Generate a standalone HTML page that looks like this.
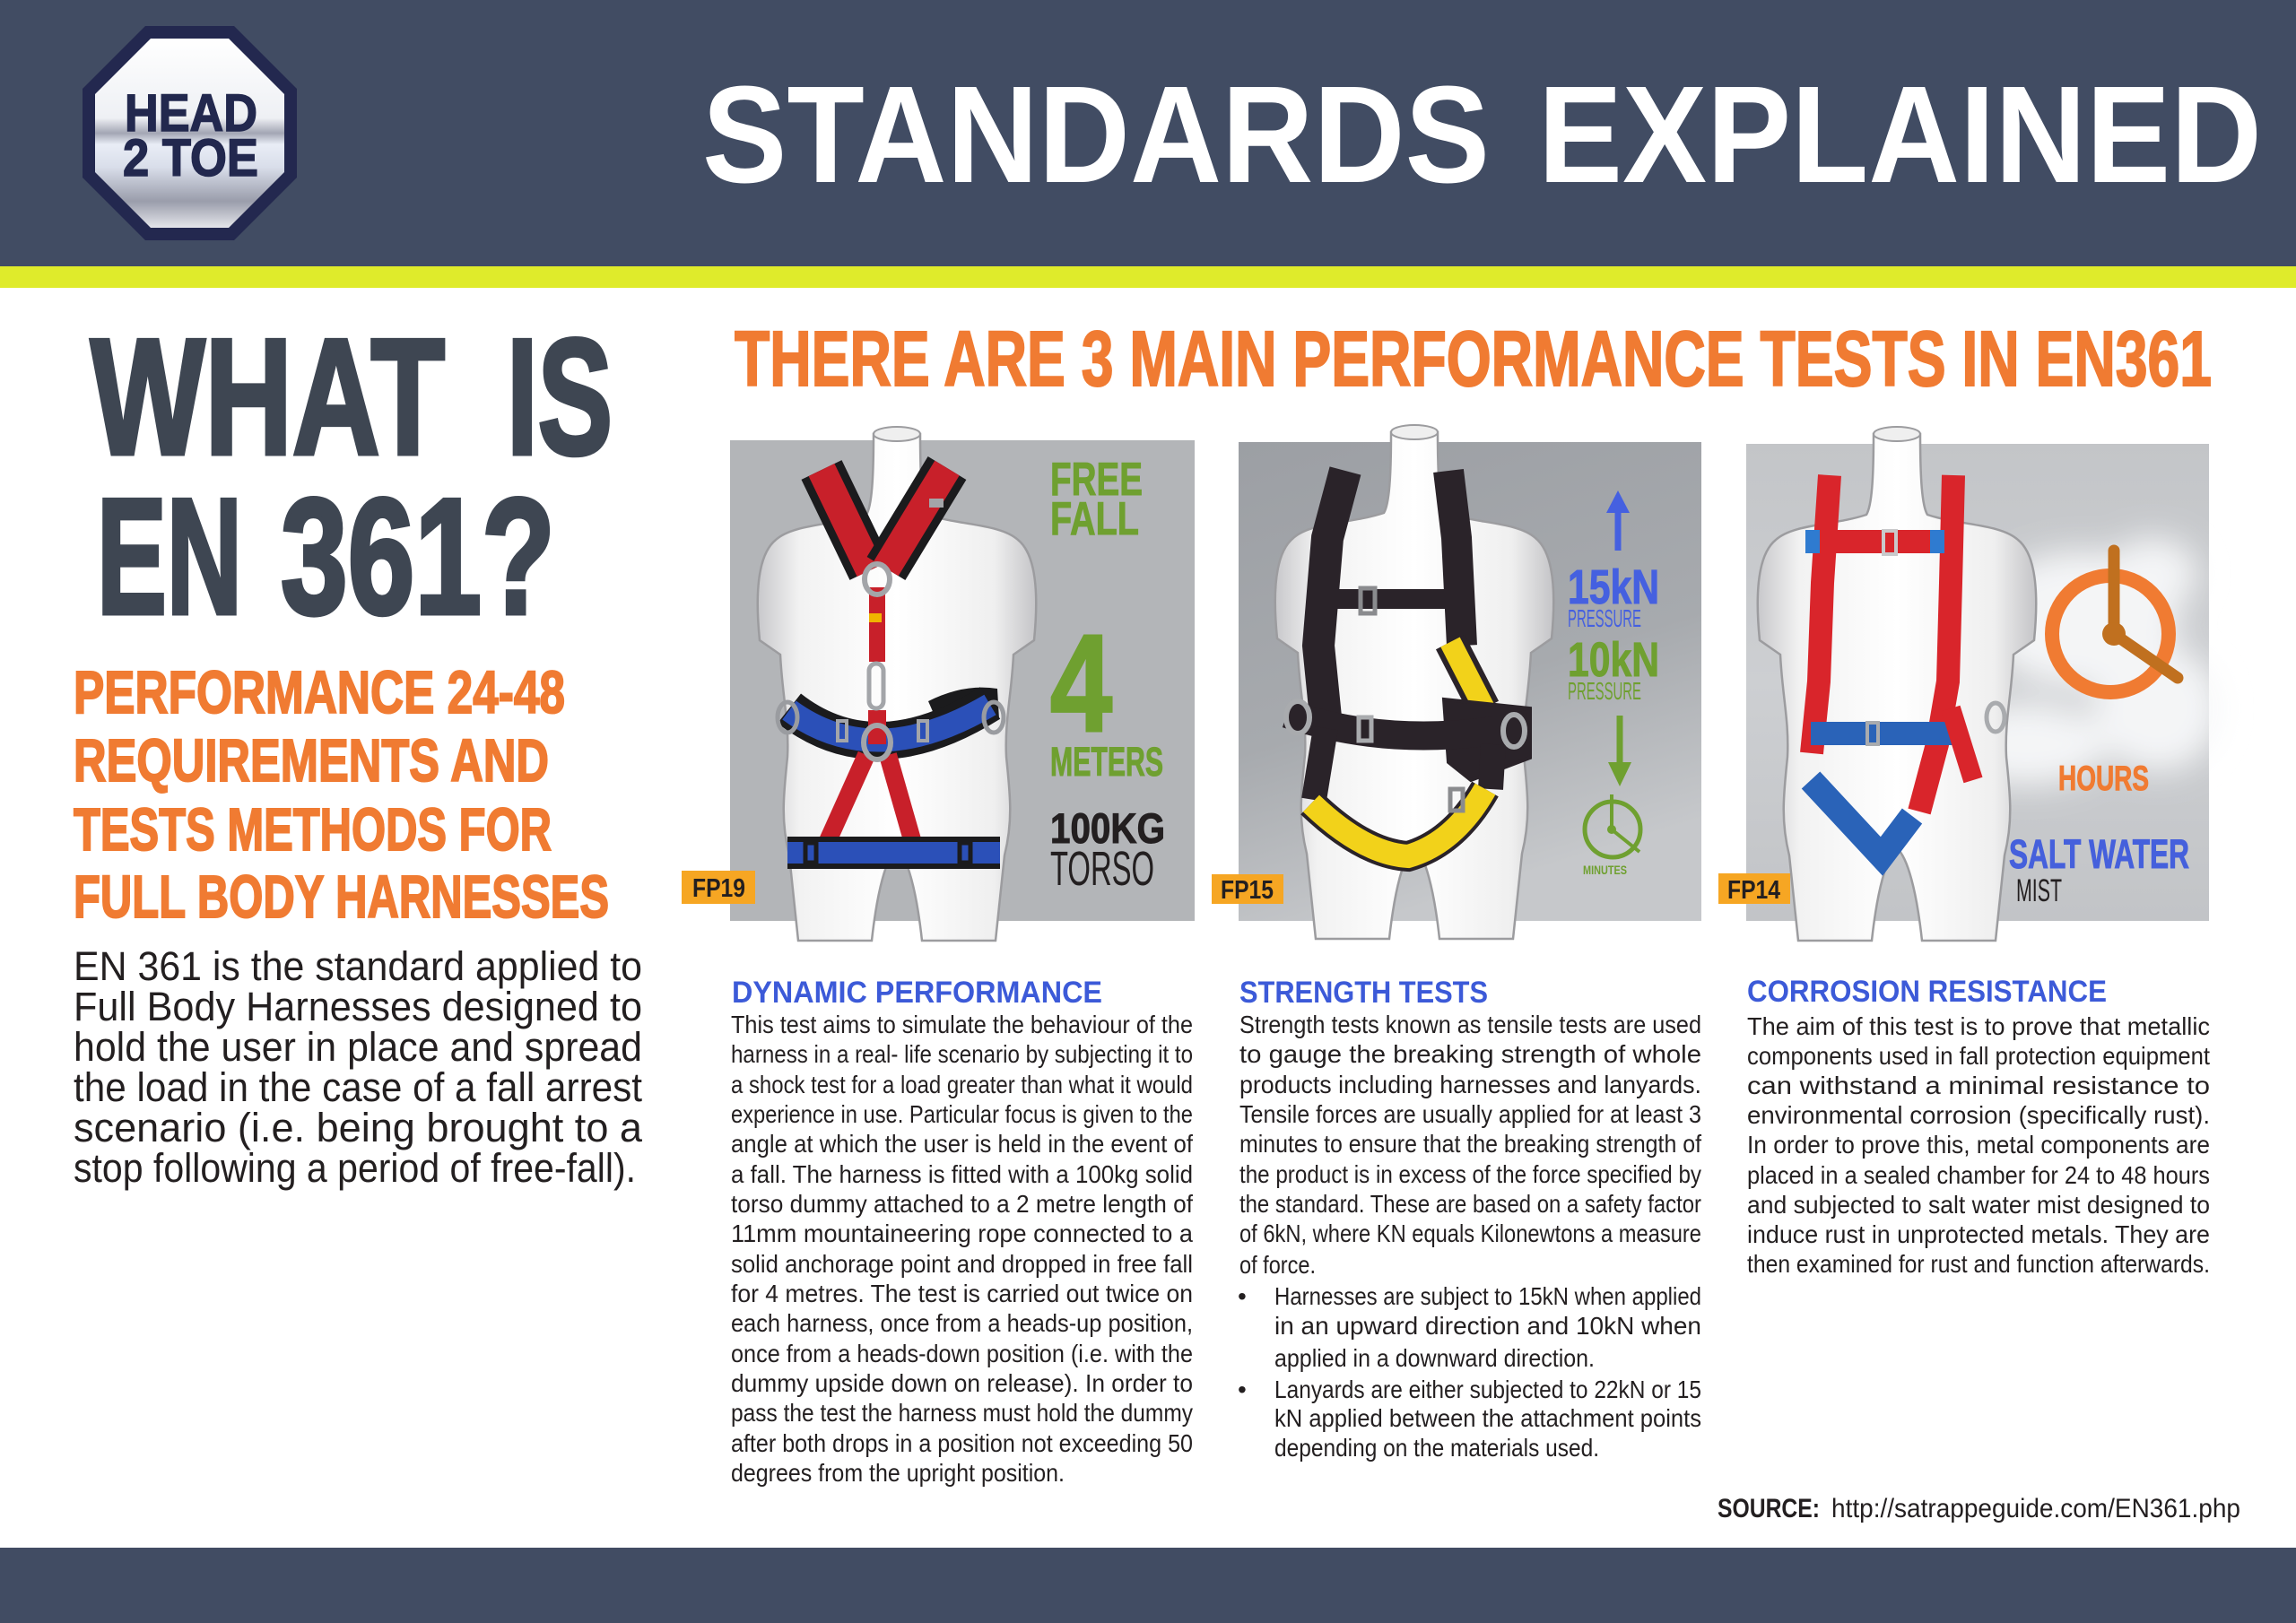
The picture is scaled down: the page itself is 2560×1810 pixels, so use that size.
<!DOCTYPE html>
<html>
<head>
<meta charset="utf-8">
<style>
  html,body{margin:0;padding:0;background:#ffffff;}
  svg{display:block;}
  .b{font-family:"Liberation Sans",sans-serif;font-weight:bold;}
  .r{font-family:"Liberation Sans",sans-serif;font-weight:normal;}
</style>
</head>
<body>
<svg width="2560" height="1810" viewBox="0 0 2560 1810" xmlns="http://www.w3.org/2000/svg">
  <defs>
    <linearGradient id="logoG" x1="0" y1="0" x2="0" y2="1">
      <stop offset="0" stop-color="#ffffff"/>
      <stop offset="0.42" stop-color="#eef0f4"/>
      <stop offset="0.5" stop-color="#a3a6b4"/>
      <stop offset="0.56" stop-color="#e9edf6"/>
      <stop offset="0.68" stop-color="#d9deea"/>
      <stop offset="0.86" stop-color="#9a9dab"/>
      <stop offset="1" stop-color="#e4e5ea"/>
    </linearGradient>
    <linearGradient id="mqG" x1="0" y1="0" x2="1" y2="0">
      <stop offset="0" stop-color="#c8c8cb"/>
      <stop offset="0.15" stop-color="#f2f2f2"/>
      <stop offset="0.5" stop-color="#ffffff"/>
      <stop offset="0.85" stop-color="#efefef"/>
      <stop offset="1" stop-color="#c4c4c7"/>
    </linearGradient>
    <linearGradient id="p2G" x1="0" y1="0" x2="0.3" y2="1">
      <stop offset="0" stop-color="#9c9fa4"/>
      <stop offset="0.6" stop-color="#a7aaae"/>
      <stop offset="1" stop-color="#c6c8cb"/>
    </linearGradient>
    <linearGradient id="p3G" x1="0" y1="0" x2="0" y2="1">
      <stop offset="0" stop-color="#c3c5c8"/>
      <stop offset="0.5" stop-color="#cdcfd2"/>
      <stop offset="1" stop-color="#c2c4c7"/>
    </linearGradient>
    <filter id="blur" x="-50%" y="-50%" width="200%" height="200%">
      <feGaussianBlur stdDeviation="18"/>
    </filter>
    <g id="mq">
      <path d="M -26,10 C -26,60 -28,90 -34,100 C -70,112 -115,110 -135,128 C -156,145 -158,190 -153,240 L -130,256 C -128,300 -120,330 -122,370 C -126,410 -130,440 -120,480 L -110,575 L -28,575 C -22,520 -12,482 0,472 C 12,482 22,520 28,575 L 110,575 L 120,480 C 130,440 126,410 122,370 C 120,330 128,300 130,256 L 153,240 C 158,190 156,145 135,128 C 115,110 70,112 34,100 C 28,90 26,60 26,10 Z" fill="url(#mqG)" stroke="#9c9c9f" stroke-width="2.5"/>
      <ellipse cx="0" cy="10" rx="26" ry="8" fill="#efefef" stroke="#9c9c9f" stroke-width="2"/>
    </g>
  </defs>

  <!-- Header -->
  <rect x="0" y="0" width="2560" height="297" fill="#414c63"/>
  <rect x="0" y="297" width="2560" height="24" fill="#dfeb2b"/>
  <!-- Footer -->
  <rect x="0" y="1726" width="2560" height="84" fill="#414c63"/>

  <!-- Logo -->
  <polygon points="162,29 261,29 331,99 331,198 261,268 162,268 92,198 92,99" fill="#23284f"/>
  <polygon points="168,43 255,43 317,105 317,192 255,254 168,254 106,192 106,105" fill="url(#logoG)"/>
  <text class="b" x="139" y="146" font-size="58" fill="#22284e" stroke="#22284e" stroke-width="1.5" textLength="148" lengthAdjust="spacingAndGlyphs">HEAD</text>
  <text class="b" x="137" y="196" font-size="58" fill="#22284e" stroke="#22284e" stroke-width="1.5" textLength="151" lengthAdjust="spacingAndGlyphs">2 TOE</text>

  <!-- Header title -->
  <text class="b" x="783" y="203" font-size="154" fill="#ffffff" textLength="878" lengthAdjust="spacingAndGlyphs">STANDARDS</text>
  <text class="b" x="1715" y="203" font-size="154" fill="#ffffff" textLength="807" lengthAdjust="spacingAndGlyphs">EXPLAINED</text>

  <!-- Left column -->
  <g class="b" font-size="184" fill="#3e4652" stroke="#3e4652" stroke-width="5">
    <text x="101" y="506" textLength="395" lengthAdjust="spacingAndGlyphs">WHAT</text>
    <text x="565" y="506" textLength="118" lengthAdjust="spacingAndGlyphs">IS</text>
    <text x="108" y="684" textLength="162" lengthAdjust="spacingAndGlyphs">EN</text>
    <text x="313" y="684" textLength="306" lengthAdjust="spacingAndGlyphs">361?</text>
  </g>

  <g class="b" font-size="67" fill="#f07b32" stroke="#f07b32" stroke-width="2">
    <text x="82" y="795" textLength="548" lengthAdjust="spacingAndGlyphs">PERFORMANCE 24-48</text>
    <text x="82" y="871" textLength="530" lengthAdjust="spacingAndGlyphs">REQUIREMENTS AND</text>
    <text x="82" y="948" textLength="533" lengthAdjust="spacingAndGlyphs">TESTS METHODS FOR</text>
    <text x="82" y="1023" textLength="597" lengthAdjust="spacingAndGlyphs">FULL BODY HARNESSES</text>
  </g>

  <g class="r" font-size="45" fill="#231f20">
    <text x="82" y="1093" textLength="634" lengthAdjust="spacingAndGlyphs">EN 361 is the standard applied to</text>
    <text x="82" y="1138" textLength="634" lengthAdjust="spacingAndGlyphs">Full Body Harnesses designed to</text>
    <text x="82" y="1183" textLength="634" lengthAdjust="spacingAndGlyphs">hold the user in place and spread</text>
    <text x="82" y="1228" textLength="634" lengthAdjust="spacingAndGlyphs">the load in the case of a fall arrest</text>
    <text x="82" y="1273" textLength="634" lengthAdjust="spacingAndGlyphs">scenario (i.e. being brought to a</text>
    <text x="82" y="1318" textLength="627" lengthAdjust="spacingAndGlyphs">stop following a period of free-fall).</text>
  </g>

  <!-- Main orange title -->
  <text class="b" x="819" y="430" font-size="87" fill="#f07b32" stroke="#f07b32" stroke-width="2" textLength="1647" lengthAdjust="spacingAndGlyphs">THERE ARE 3 MAIN PERFORMANCE TESTS IN EN361</text>

  <!-- Panel backgrounds -->
  <rect x="814" y="491" width="518" height="536" fill="#b3b5b8"/>
  <rect x="1381" y="493" width="516" height="534" fill="url(#p2G)"/>
  <rect x="1947" y="495" width="516" height="532" fill="url(#p3G)"/>

  <!-- Panel 3 clouds -->
  <g filter="url(#blur)" fill="#f7f8f9" opacity="0.95">
    <ellipse cx="2320" cy="690" rx="110" ry="75"/>
    <ellipse cx="2405" cy="790" rx="70" ry="70"/>
    <ellipse cx="2260" cy="830" rx="90" ry="45"/>
    <ellipse cx="2400" cy="640" rx="50" ry="40"/>
  </g>

  <!-- Mannequins -->
  <use href="#mq" transform="translate(1000,474)"/>
  <use href="#mq" transform="translate(1577,472)"/>
  <use href="#mq" transform="translate(2115,474)"/>

  <!-- Panel 1 harness (red/blue) -->
  <path d="M 1035,782 Q 1075,762 1112,768 L 1114,802 Q 1080,795 1045,805 Z" fill="#1b1b1d"/>
  <g fill="none" stroke-linecap="butt">
    <path d="M 916,524 L 970,636" stroke="#1b1b1d" stroke-width="50"/>
    <path d="M 916,524 L 970,636" stroke="#c8202a" stroke-width="32"/>
    <path d="M 1056,522 L 988,634" stroke="#1b1b1d" stroke-width="50"/>
    <path d="M 1056,522 L 988,634" stroke="#c8202a" stroke-width="32"/>
    <path d="M 978,655 L 978,738" stroke="#c8202a" stroke-width="18"/>
    <path d="M 880,790 Q 975,865 1104,784" stroke="#1b1b1d" stroke-width="42"/>
    <path d="M 880,792 Q 975,862 1104,786" stroke="#2b50b8" stroke-width="26"/>
    <path d="M 978,792 L 978,830" stroke="#c8202a" stroke-width="20"/>
    <path d="M 966,842 L 922,940" stroke="#c8202a" stroke-width="20"/>
    <path d="M 990,842 L 1018,940" stroke="#c8202a" stroke-width="20"/>
    <path d="M 878,951 L 1115,951" stroke="#1b1b1d" stroke-width="36"/>
    <path d="M 878,951 L 1115,951" stroke="#2b50b8" stroke-width="24"/>
    <ellipse cx="978" cy="646" rx="14" ry="17" stroke="#a3a5a9" stroke-width="6"/>
    <rect x="969" y="740" width="16" height="50" rx="8" stroke="#a3a5a9" stroke-width="5"/>
    <ellipse cx="978" cy="828" rx="15" ry="19" stroke="#a3a5a9" stroke-width="6"/>
    <ellipse cx="878" cy="800" rx="11" ry="17" stroke="#9a9ca0" stroke-width="5"/>
    <ellipse cx="1108" cy="800" rx="11" ry="17" stroke="#9a9ca0" stroke-width="5"/>
    <rect x="898" y="940" width="12" height="22" stroke="#1b1b1d" stroke-width="5"/>
    <rect x="1070" y="940" width="12" height="22" stroke="#1b1b1d" stroke-width="5"/>
    <rect x="934" y="804" width="10" height="22" stroke="#a3a5a9" stroke-width="4"/>
    <rect x="1024" y="804" width="10" height="22" stroke="#a3a5a9" stroke-width="4"/>
    <rect x="1036" y="556" width="16" height="10" fill="#a3a5a9" stroke="none"/>
  </g>
  <rect x="969" y="684" width="14" height="10" fill="#f0b400"/>

  <!-- Panel 2 harness (black/yellow) -->
  <g fill="none" stroke-linecap="butt">
    <path d="M 1500,525 L 1480,600 L 1470,720 L 1478,800" stroke="#2a2329" stroke-width="36"/>
    <path d="M 1615,525 L 1624,600 L 1630,720" stroke="#2a2329" stroke-width="34"/>
    <path d="M 1617,716 L 1655,790" stroke="#2a2329" stroke-width="36"/>
    <path d="M 1617,716 L 1655,790" stroke="#f2d21a" stroke-width="24"/>
    <path d="M 1466,668 L 1628,668" stroke="#2a2329" stroke-width="22"/>
    <path d="M 1610,780 L 1706,790 L 1706,845 L 1640,870 L 1615,850 Z" fill="#2a2329" stroke="#2a2329" stroke-width="4"/>
    <path d="M 1435,796 Q 1560,838 1704,808" stroke="#2a2329" stroke-width="32"/>
    <path d="M 1478,812 L 1465,892" stroke="#2a2329" stroke-width="28"/>
    <path d="M 1665,830 L 1662,880" stroke="#2a2329" stroke-width="28"/>
    <path d="M 1462,896 Q 1520,952 1570,955 Q 1622,940 1656,880" stroke="#2a2329" stroke-width="34"/>
    <path d="M 1462,896 Q 1520,952 1570,955 Q 1622,940 1656,880" stroke="#f2d21a" stroke-width="26"/>
    <ellipse cx="1447" cy="800" rx="13" ry="18" stroke="#a9abae" stroke-width="6"/>
    <ellipse cx="1688" cy="815" rx="12" ry="18" stroke="#a9abae" stroke-width="6"/>
    <rect x="1517" y="656" width="16" height="28" stroke="#8a8b8e" stroke-width="5"/>
    <rect x="1515" y="800" width="14" height="26" stroke="#a9abae" stroke-width="5"/>
    <rect x="1617" y="880" width="14" height="24" stroke="#8a8b8e" stroke-width="5"/>
  </g>

  <!-- Panel 3 harness (red/blue) -->
  <g fill="none" stroke-linecap="butt">
    <path d="M 2040,530 L 2032,650 L 2028,760 L 2020,840" stroke="#d9252b" stroke-width="26"/>
    <path d="M 2178,530 L 2175,650 L 2172,760 L 2160,830 L 2140,905" stroke="#d9252b" stroke-width="26"/>
    <path d="M 2015,604 L 2166,604" stroke="#d9252b" stroke-width="26"/>
    <rect x="2013" y="591" width="16" height="26" fill="#2f7bd0" stroke="none"/>
    <rect x="2152" y="591" width="16" height="26" fill="#2f7bd0" stroke="none"/>
    <rect x="2100" y="592" width="14" height="26" stroke="#c9c9cb" stroke-width="4"/>
    <path d="M 2019,818 L 2185,818" stroke="#2a63b8" stroke-width="26"/>
    <path d="M 2019,870 L 2098,955 L 2132,910" stroke="#2a63b8" stroke-width="28"/>
    <path d="M 2175,790 L 2200,870" stroke="#d9252b" stroke-width="22"/>
    <rect x="2082" y="806" width="12" height="24" stroke="#a9abae" stroke-width="4"/>
    <ellipse cx="2225" cy="800" rx="10" ry="16" stroke="#a9abae" stroke-width="5"/>
  </g>

  <!-- Panel 1 texts -->
  <g class="b" fill="#6fa030" stroke="#6fa030" stroke-width="1">
    <text x="1171" y="552" font-size="52" textLength="103" lengthAdjust="spacingAndGlyphs">FREE</text>
    <text x="1171" y="596" font-size="52" textLength="99" lengthAdjust="spacingAndGlyphs">FALL</text>
    <text x="1171" y="815" font-size="154" stroke-width="3" textLength="69" lengthAdjust="spacingAndGlyphs">4</text>
    <text x="1171" y="865" font-size="45" textLength="126" lengthAdjust="spacingAndGlyphs">METERS</text>
  </g>
  <text class="b" x="1171" y="940" font-size="47" fill="#231f20" stroke="#231f20" stroke-width="1" textLength="128" lengthAdjust="spacingAndGlyphs">100KG</text>
  <text class="r" x="1171" y="987" font-size="54" fill="#231f20" textLength="116" lengthAdjust="spacingAndGlyphs">TORSO</text>

  <!-- Panel 2 texts & icons -->
  <path d="M 1804,614 L 1804,568" stroke="#4560e0" stroke-width="7"/>
  <polygon points="1791,572 1804,547 1817,572" fill="#4560e0"/>
  <text class="b" x="1748" y="673" font-size="54" fill="#4560e0" stroke="#4560e0" stroke-width="1" textLength="102" lengthAdjust="spacingAndGlyphs">15kN</text>
  <text class="r" x="1748" y="699" font-size="28" fill="#4560e0" textLength="82" lengthAdjust="spacingAndGlyphs">PRESSURE</text>
  <text class="b" x="1748" y="754" font-size="54" fill="#6fa030" stroke="#6fa030" stroke-width="1" textLength="102" lengthAdjust="spacingAndGlyphs">10kN</text>
  <text class="r" x="1748" y="780" font-size="28" fill="#6fa030" textLength="82" lengthAdjust="spacingAndGlyphs">PRESSURE</text>
  <path d="M 1806,798 L 1806,852" stroke="#6fa030" stroke-width="7"/>
  <polygon points="1793,850 1806,877 1819,850" fill="#6fa030"/>
  <circle cx="1798" cy="925" r="31" fill="none" stroke="#6fa030" stroke-width="5"/>
  <path d="M 1797,886 L 1797,925 L 1828,950" fill="none" stroke="#6fa030" stroke-width="4"/>
  <circle cx="1797" cy="925" r="5" fill="#6fa030"/>
  <text class="b" x="1765" y="975" font-size="14" fill="#6fa030" textLength="49" lengthAdjust="spacingAndGlyphs">MINUTES</text>

  <!-- Panel 3 texts & icons -->
  <circle cx="2353" cy="707" r="65" fill="none" stroke="#f07b32" stroke-width="16"/>
  <path d="M 2357,614 L 2357,707 L 2428,756" fill="none" stroke="#c0701f" stroke-width="13" stroke-linecap="round" stroke-linejoin="round"/>
  <circle cx="2357" cy="707" r="13" fill="#c0701f"/>
  <text class="b" x="2295" y="881" font-size="39" fill="#f07b32" stroke="#f07b32" stroke-width="1" textLength="101" lengthAdjust="spacingAndGlyphs">HOURS</text>
  <text class="b" x="2240" y="968" font-size="45" fill="#4560dc" stroke="#4560dc" stroke-width="1" textLength="201" lengthAdjust="spacingAndGlyphs">SALT WATER</text>
  <text class="r" x="2248" y="1005" font-size="35" fill="#231f20" textLength="51" lengthAdjust="spacingAndGlyphs">MIST</text>

  <!-- FP labels -->
  <rect x="760" y="971" width="82" height="37" fill="#f6a623"/>
  <text class="b" x="772" y="1000" font-size="29" fill="#231f20" textLength="59" lengthAdjust="spacingAndGlyphs">FP19</text>
  <rect x="1351" y="975" width="80" height="33" fill="#f6a623"/>
  <text class="b" x="1361" y="1002" font-size="29" fill="#231f20" textLength="59" lengthAdjust="spacingAndGlyphs">FP15</text>
  <rect x="1916" y="974" width="80" height="34" fill="#f6a623"/>
  <text class="b" x="1926" y="1002" font-size="29" fill="#231f20" textLength="59" lengthAdjust="spacingAndGlyphs">FP14</text>

  <!-- Column headings -->
  <g class="b" font-size="34" fill="#3c5ad8">
    <text x="816" y="1118" textLength="413" lengthAdjust="spacingAndGlyphs">DYNAMIC PERFORMANCE</text>
    <text x="1382" y="1118" textLength="277" lengthAdjust="spacingAndGlyphs">STRENGTH TESTS</text>
    <text x="1948" y="1117" textLength="401" lengthAdjust="spacingAndGlyphs">CORROSION RESISTANCE</text>
  </g>

  <!-- Column 1 body -->
  <g class="r" font-size="28" fill="#231f20">
    <text x="815" y="1152" textLength="515" lengthAdjust="spacingAndGlyphs">This test aims to simulate the behaviour of the</text>
    <text x="815" y="1185" textLength="515" lengthAdjust="spacingAndGlyphs">harness in a real- life scenario by subjecting it to</text>
    <text x="815" y="1219" textLength="515" lengthAdjust="spacingAndGlyphs">a shock test for a load greater than what it would</text>
    <text x="815" y="1252" textLength="515" lengthAdjust="spacingAndGlyphs">experience in use. Particular focus is given to the</text>
    <text x="815" y="1285" textLength="515" lengthAdjust="spacingAndGlyphs">angle at which the user is held in the event of</text>
    <text x="815" y="1319" textLength="515" lengthAdjust="spacingAndGlyphs">a fall. The harness is fitted with a 100kg solid</text>
    <text x="815" y="1352" textLength="515" lengthAdjust="spacingAndGlyphs">torso dummy attached to a 2 metre length of</text>
    <text x="815" y="1385" textLength="515" lengthAdjust="spacingAndGlyphs">11mm mountaineering rope connected to a</text>
    <text x="815" y="1419" textLength="515" lengthAdjust="spacingAndGlyphs">solid anchorage point and dropped in free fall</text>
    <text x="815" y="1452" textLength="515" lengthAdjust="spacingAndGlyphs">for 4 metres. The test is carried out twice on</text>
    <text x="815" y="1485" textLength="515" lengthAdjust="spacingAndGlyphs">each harness, once from a heads-up position,</text>
    <text x="815" y="1519" textLength="515" lengthAdjust="spacingAndGlyphs">once from a heads-down position (i.e. with the</text>
    <text x="815" y="1552" textLength="515" lengthAdjust="spacingAndGlyphs">dummy upside down on release). In order to</text>
    <text x="815" y="1585" textLength="515" lengthAdjust="spacingAndGlyphs">pass the test the harness must hold the dummy</text>
    <text x="815" y="1619" textLength="515" lengthAdjust="spacingAndGlyphs">after both drops in a position not exceeding 50</text>
    <text x="815" y="1652" textLength="372" lengthAdjust="spacingAndGlyphs">degrees from the upright position.</text>
  </g>

  <!-- Column 2 body -->
  <g class="r" font-size="28" fill="#231f20">
    <text x="1382" y="1152" textLength="515" lengthAdjust="spacingAndGlyphs">Strength tests known as tensile tests are used</text>
    <text x="1382" y="1185" textLength="515" lengthAdjust="spacingAndGlyphs">to gauge the breaking strength of whole</text>
    <text x="1382" y="1219" textLength="515" lengthAdjust="spacingAndGlyphs">products including harnesses and lanyards.</text>
    <text x="1382" y="1252" textLength="515" lengthAdjust="spacingAndGlyphs">Tensile forces are usually applied for at least 3</text>
    <text x="1382" y="1285" textLength="515" lengthAdjust="spacingAndGlyphs">minutes to ensure that the breaking strength of</text>
    <text x="1382" y="1319" textLength="515" lengthAdjust="spacingAndGlyphs">the product is in excess of the force specified by</text>
    <text x="1382" y="1352" textLength="515" lengthAdjust="spacingAndGlyphs">the standard. These are based on a safety factor</text>
    <text x="1382" y="1385" textLength="515" lengthAdjust="spacingAndGlyphs">of 6kN, where KN equals Kilonewtons a measure</text>
    <text x="1382" y="1420" textLength="85" lengthAdjust="spacingAndGlyphs">of force.</text>
    <text x="1380" y="1455">•</text>
    <text x="1421" y="1455" textLength="476" lengthAdjust="spacingAndGlyphs">Harnesses are subject to 15kN when applied</text>
    <text x="1421" y="1488" textLength="476" lengthAdjust="spacingAndGlyphs">in an upward direction and 10kN when</text>
    <text x="1421" y="1524" textLength="357" lengthAdjust="spacingAndGlyphs">applied in a downward direction.</text>
    <text x="1380" y="1559">•</text>
    <text x="1421" y="1559" textLength="476" lengthAdjust="spacingAndGlyphs">Lanyards are either subjected to 22kN or 15</text>
    <text x="1421" y="1591" textLength="476" lengthAdjust="spacingAndGlyphs">kN applied between the attachment points</text>
    <text x="1421" y="1624" textLength="362" lengthAdjust="spacingAndGlyphs">depending on the materials used.</text>
  </g>

  <!-- Column 3 body -->
  <g class="r" font-size="28" fill="#231f20">
    <text x="1948" y="1154" textLength="516" lengthAdjust="spacingAndGlyphs">The aim of this test is to prove that metallic</text>
    <text x="1948" y="1187" textLength="516" lengthAdjust="spacingAndGlyphs">components used in fall protection equipment</text>
    <text x="1948" y="1220" textLength="516" lengthAdjust="spacingAndGlyphs">can withstand a minimal resistance to</text>
    <text x="1948" y="1253" textLength="516" lengthAdjust="spacingAndGlyphs">environmental corrosion (specifically rust).</text>
    <text x="1948" y="1286" textLength="516" lengthAdjust="spacingAndGlyphs">In order to prove this, metal components are</text>
    <text x="1948" y="1320" textLength="516" lengthAdjust="spacingAndGlyphs">placed in a sealed chamber for 24 to 48 hours</text>
    <text x="1948" y="1353" textLength="516" lengthAdjust="spacingAndGlyphs">and subjected to salt water mist designed to</text>
    <text x="1948" y="1386" textLength="516" lengthAdjust="spacingAndGlyphs">induce rust in unprotected metals. They are</text>
    <text x="1948" y="1419" textLength="516" lengthAdjust="spacingAndGlyphs">then examined for rust and function afterwards.</text>
  </g>

  <!-- Source -->
  <text class="b" x="1915" y="1692" font-size="30" fill="#231f20" textLength="114" lengthAdjust="spacingAndGlyphs">SOURCE:</text>
  <text class="r" x="2042" y="1692" font-size="30" fill="#231f20" textLength="456" lengthAdjust="spacingAndGlyphs">http://satrappeguide.com/EN361.php</text>
</svg>
</body>
</html>
